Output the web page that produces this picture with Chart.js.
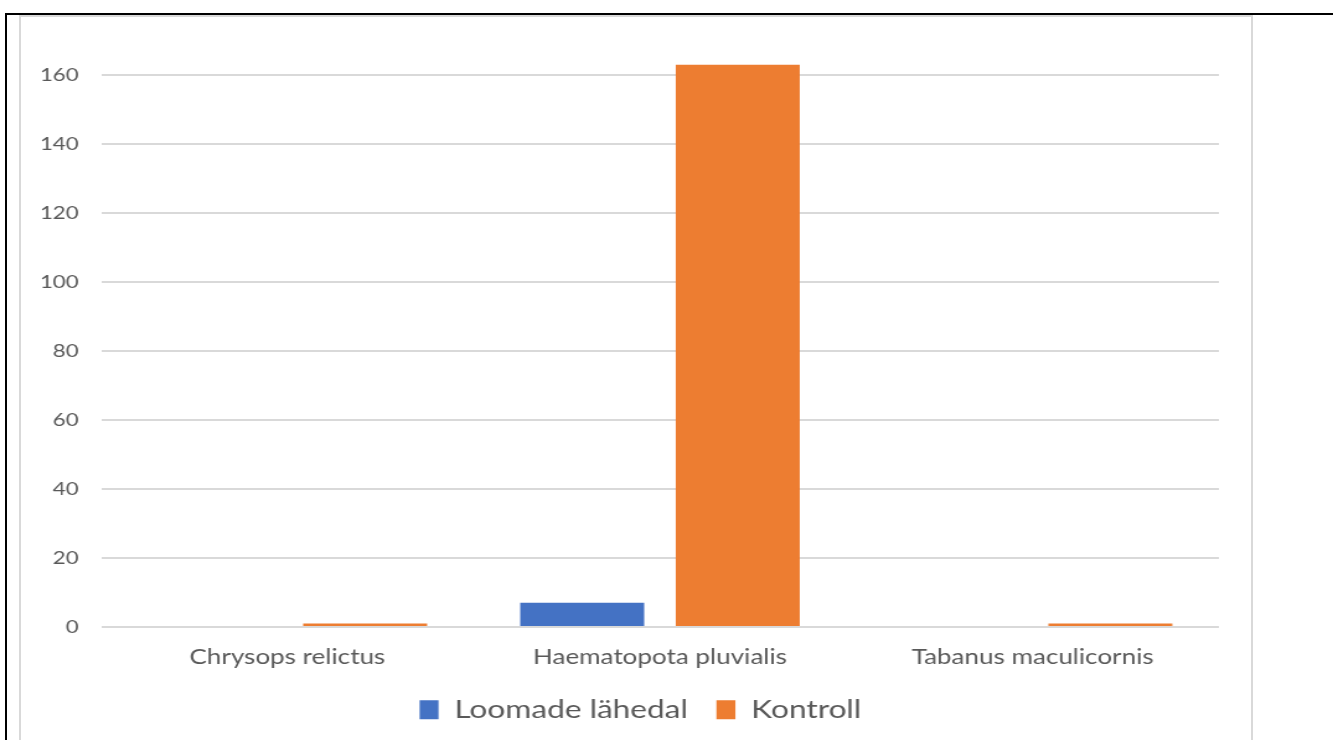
<!DOCTYPE html>
<html>
<head>
<meta charset="utf-8">
<script src="https://cdn.jsdelivr.net/npm/chart.js@4/dist/chart.umd.min.js"></script>
<style>
  html, body { margin: 0; padding: 0; background: #fff; overflow: hidden; }
  #page { position: relative; width: 1333px; height: 740px; }
  #outer { position: absolute; left: 5px; top: 13px; right: -10px; bottom: -10px;
           border-top: 2px solid #000; border-left: 2px solid #000; }
  #inner { position: absolute; left: 19px; top: 15px; width: 1230px; bottom: -10px;
           border: 2px solid #d9d9d9; background: #fff; }
  /* the picture is stretched sideways, so the canvas is drawn narrower and widened */
  #chart { position: absolute; left: 0; top: 0; transform-origin: 0 0; }
</style>
</head>
<body>
<div id="page">
  <div id="outer"></div>
  <div id="inner"></div>
  <canvas id="chart"></canvas>
</div>
<script>
const species = ['Chrysops relictus', 'Haematopota pluvialis', 'Tabanus maculicornis'];
const nearAnimals = [0, 7, 0];
const control = [1, 163, 1];
const seriesNames = ['Loomade lähedal', 'Kontroll'];

const stretch = 1.24;
const canvasWidth = Math.round(1333 / stretch);
const grey = '#595959';

let $chart = document.getElementById('chart');
$chart.width = canvasWidth;
$chart.height = 740;
$chart.style.width = canvasWidth + 'px';
$chart.style.height = '740px';
$chart.style.transform = `scaleX(${stretch})`;

// chart data
const data = {
    labels: species,
    datasets: [{
        label: seriesNames[0],
        data: nearAnimals,
        backgroundColor: '#4472C4',
        clip: false,
    }, {
        label: seriesNames[1],
        data: control,
        backgroundColor: '#ED7D31',
        clip: false, // the 163 bar pokes above the 160 line
    }],
}

const config = {
    type: 'bar',
    data,
    options: {
        responsive: false,
        animation: false,
        devicePixelRatio: 1,
        categoryPercentage: 0.835,
        barPercentage: 0.797,
        layout: {
            padding: { left: 0, right: 42, top: 75, bottom: 16 }
        },
        scales: {
            x: {
                grid: { display: false, drawTicks: false },
                border: { display: false },
                ticks: {
                    color: grey,
                    padding: 18,
                    font: { family: 'Lato', size: 21 },
                },
                afterFit: (scale) => { scale.height = 47; },
            },
            y: {
                min: 0,
                max: 160,
                ticks: {
                    stepSize: 20,
                    color: grey,
                    padding: 18,
                    font: { family: 'Lato', size: 18 },
                },
                grid: { color: '#d9d9d9', lineWidth: 2, drawTicks: false },
                border: { display: false },
                afterFit: (scale) => { scale.width = 81.5; },
            },
            // empty space on the right of the plot, keeps the legend centred like the original
            spacer: {
                type: 'linear',
                position: 'right',
                grid: { display: false },
                border: { display: false },
                ticks: { display: false },
                afterFit: (scale) => { scale.width = 50; },
            }
        },
        plugins: {
            tooltip: { enabled: false },
            legend: {
                position: 'bottom',
                maxHeight: 50,
                labels: {
                    boxWidth: 15.3,
                    boxHeight: 19,
                    padding: 23,
                    color: grey,
                    font: { family: 'Lato', size: 25.5 },
                }
            }
        }
    }
}

//render chart
const chart = new Chart($chart, config);
</script>
</body>
</html>
